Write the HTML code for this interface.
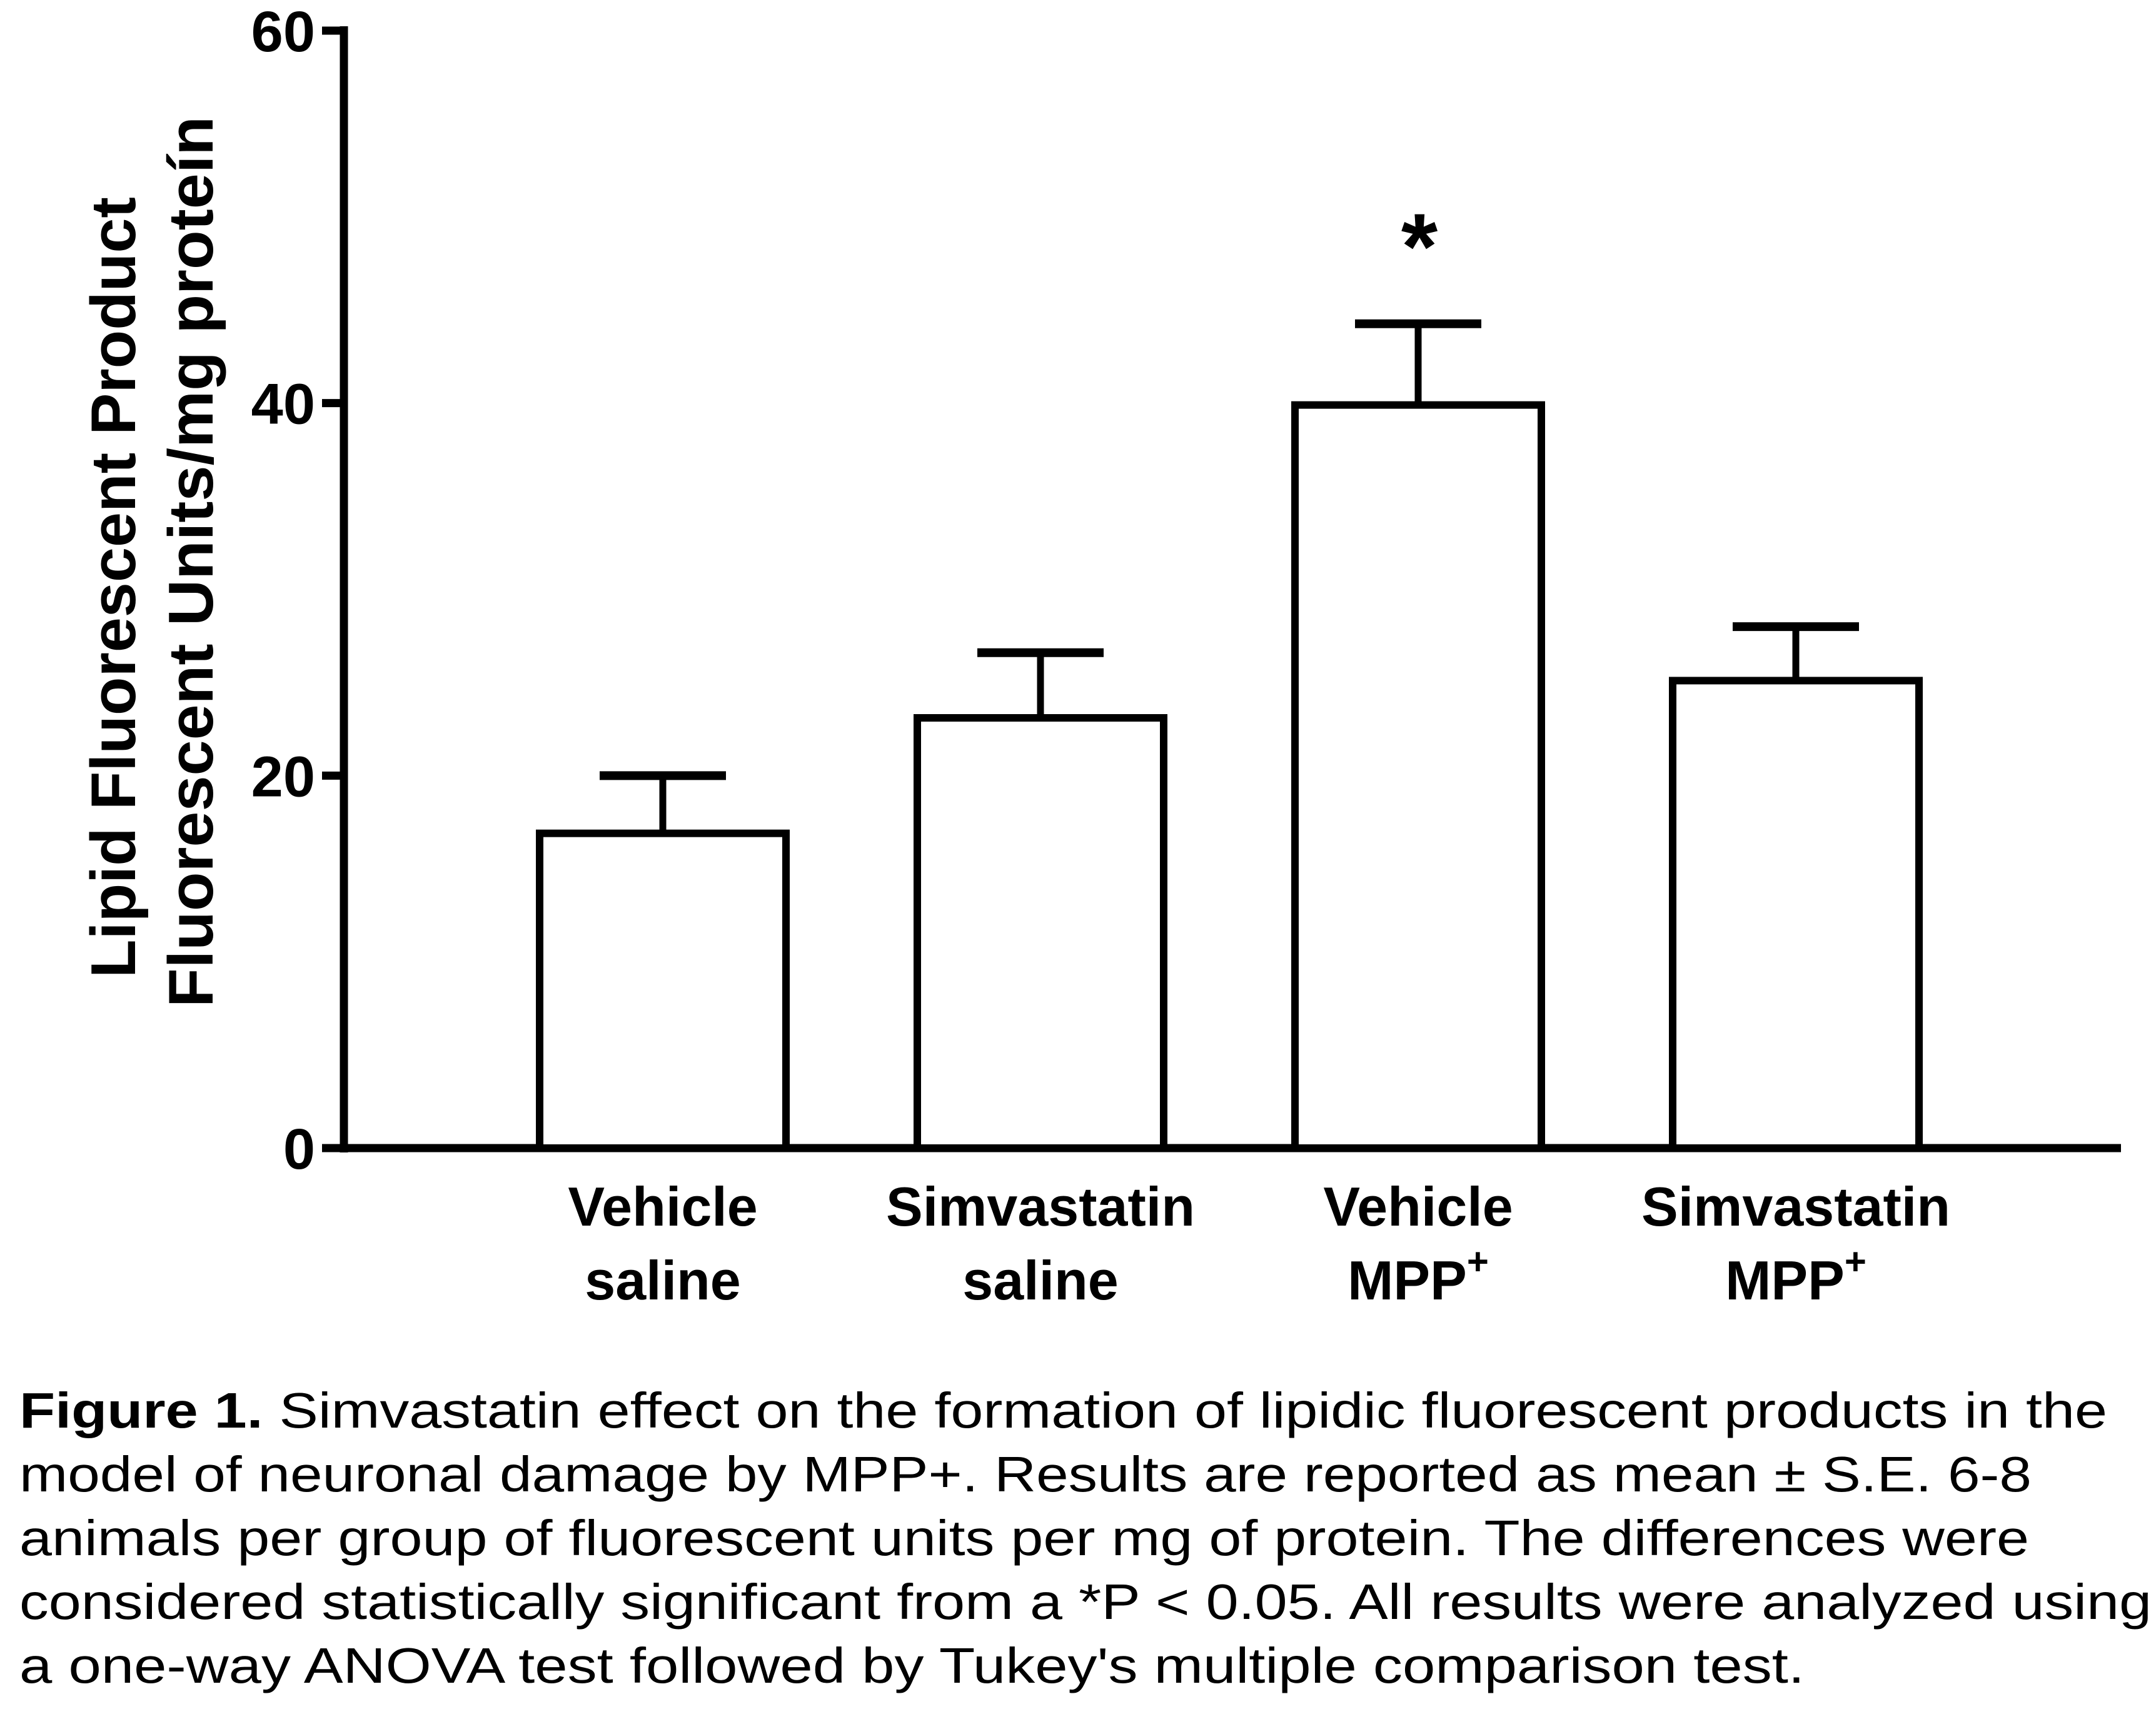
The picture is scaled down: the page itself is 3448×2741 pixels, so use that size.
<!DOCTYPE html>
<html><head><meta charset="utf-8"><style>
html,body{margin:0;padding:0;background:#fff;}
svg{display:block;}
text{font-family:"Liberation Sans",Arial,sans-serif;fill:#000;}
</style></head><body>
<svg id="chart" width="3448" height="2741" viewBox="0 0 3448 2741" xmlns="http://www.w3.org/2000/svg">
<g id="axes"></g>
<g id="bars"></g>
<g font-weight="bold" font-size="101">
<text transform="translate(216,1564) rotate(-90)" textLength="1249" lengthAdjust="spacingAndGlyphs">Lipid Fluorescent Product</text>
<text transform="translate(340,1611) rotate(-90)" textLength="1425" lengthAdjust="spacingAndGlyphs">Fluorescent Units/mg proteín</text>
</g>
<g font-size="80">
<text x="31" y="2283" textLength="3339" lengthAdjust="spacingAndGlyphs"><tspan font-weight="bold">Figure 1.</tspan> Simvastatin effect on the formation of lipidic fluorescent products in the</text>
<text x="31" y="2385" textLength="3218" lengthAdjust="spacingAndGlyphs">model of neuronal damage by MPP+. Results are reported as mean ± S.E. 6-8</text>
<text x="31" y="2487" textLength="3214" lengthAdjust="spacingAndGlyphs">animals per group of fluorescent units per mg of protein. The differences were</text>
<text x="31" y="2589" textLength="3410" lengthAdjust="spacingAndGlyphs">considered statistically significant from a *P &lt; 0.05. All results were analyzed using</text>
<text x="31" y="2691" textLength="2855" lengthAdjust="spacingAndGlyphs">a one-way ANOVA test followed by Tukey's multiple comparison test.</text>
</g>
</svg>
<script>
const categoriesLine1 = ["Vehicle", "Simvastatin", "Vehicle", "Simvastatin"];
const categoriesLine2 = ["saline", "saline", "MPP", "MPP"];
const superscripts = ["", "", "+", "+"];
const means = [16.9, 23.1, 39.9, 25.1];
const errors = [3.1, 3.5, 4.36, 2.9];
const significant = [false, false, true, false];
const yTicks = [0, 20, 40, 60];

const NS = "http://www.w3.org/2000/svg";
const y0 = 1836, y60 = 49, axisX = 550, axisEnd = 3392;
function yScale(v){ return y0 - (v/60)*(y0 - y60); }
function xCenter(i){ return 1060 + i*604; }
const barW = 394, capW = 202;
function mk(tag, attrs, parent){
  const e = document.createElementNS(NS, tag);
  for (const k in attrs) e.setAttribute(k, attrs[k]);
  parent.appendChild(e); return e;
}
const axes = document.getElementById('axes');
const bars = document.getElementById('bars');
const yl = mk('line', {x1:axisX, y1:y60-7, x2:axisX, y2:y0+7, stroke:'#000','stroke-width':13}, axes);


const xl = mk('line', {x1:axisX-6, y1:y0, x2:axisEnd, y2:y0, stroke:'#000','stroke-width':13}, axes);


yTicks.forEach(t => {
  const y = yScale(t);
  const tk = mk('line', {x1:axisX-35, y1:y, x2:axisX, y2:y, stroke:'#000','stroke-width':13}, axes);
  
  
  const tl = mk('text', {x:504, y:y+33, 'text-anchor':'end','font-size':92,'font-weight':'bold'}, axes);
  tl.textContent = String(t);
  
  
});
means.forEach((m, i) => {
  const cx = xCenter(i);
  const top = yScale(m), etop = yScale(m + errors[i]);
  const w = mk('line', {x1:cx, y1:top, x2:cx, y2:etop, stroke:'#000','stroke-width':11}, bars);
  
  
  const c = mk('line', {x1:cx-capW/2, y1:etop, x2:cx+capW/2, y2:etop, stroke:'#000','stroke-width':14}, bars);
  
  
  const r = mk('rect', {x:cx-barW/2, y:top, width:barW, height:y0-top, fill:'#fff', stroke:'#000','stroke-width':12}, bars);
  
  
  if (significant[i]) {
    const s = mk('text', {x:cx+2, y:etop-72, 'text-anchor':'middle','font-size':150,'font-weight':'bold'}, bars);
    s.textContent = '*';
    
    
  }
  const l1 = mk('text', {x:cx, y:1960, 'text-anchor':'middle','font-size':88,'font-weight':'bold'}, bars);
  l1.textContent = categoriesLine1[i];
  
  
  const l2 = mk('text', {x:cx, y:2078, 'text-anchor':'middle','font-size':88,'font-weight':'bold'}, bars);
  l2.textContent = categoriesLine2[i];
  if (superscripts[i]) {
    const sp = mk('tspan', {dy:-40, 'font-size':60}, l2);
    sp.textContent = superscripts[i];
  }
  
  
});
</script>
</body></html>
